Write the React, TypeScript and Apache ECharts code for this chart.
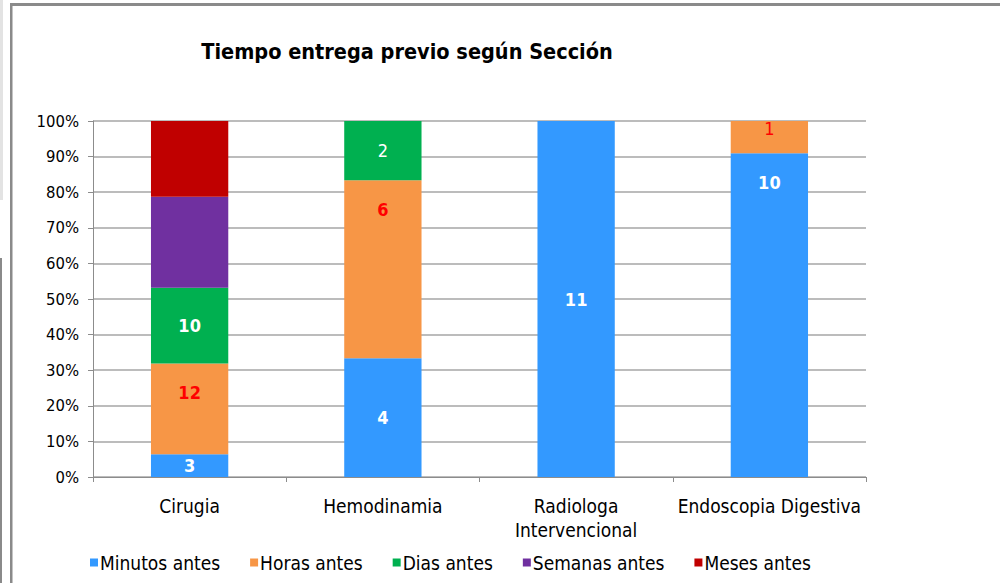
import React, { useEffect, useRef } from "react";
import * as echarts from "echarts";

const categories = ["Cirugia", "Hemodinamia", "Radiologa\nIntervencional", "Endoscopia Digestiva"];
const seriesNames = ["Minutos antes", "Horas antes", "Dias antes", "Semanas antes", "Meses antes"];
const minutos = [3, 4, 11, 10];
const horas = [12, 6, 0, 1];
const dias = [10, 2, 0, 0];
const semanas = [12, 0, 0, 0];
const meses = [10, 0, 0, 0];
const yTicks = [0, 10, 20, 30, 40, 50, 60, 70, 80, 90, 100];

const colors = ["#3399FF", "#F79646", "#00B050", "#7030A0", "#C00000"];
const FONT = "'DejaVu Sans Condensed', 'Liberation Sans Narrow', sans-serif";

export default function App() {
  const ref = useRef<HTMLDivElement>(null);
  useEffect(() => {
    document.body.style.margin = "0";
    const chart = echarts.init(ref.current!, undefined, { renderer: "svg" });
    const all = [minutos, horas, dias, semanas, meses];
    const totals = categories.map((_, i) => all.reduce((s, a) => s + a[i], 0));
    const labelStyles = [
      { color: "#ffffff", weight: ["bold", "bold", "bold", "bold"], dy: [0, 0, 0, -133], show: true },
      { color: "#FF0000", weight: ["bold", "bold", "bold", "normal"], dy: [-16, -60, 0, -9], show: true },
      { color: "#ffffff", weight: ["bold", "normal", "bold", "bold"], dy: [0, 0, 0, 0], show: true },
      { color: "#ffffff", weight: ["bold", "bold", "bold", "bold"], dy: [0, 0, 0, 0], show: false },
      { color: "#ffffff", weight: ["bold", "bold", "bold", "bold"], dy: [0, 0, 0, 0], show: false },
    ];
    const series = all.map((vals, si) => ({
      name: seriesNames[si],
      type: "bar",
      stack: "total",
      barWidth: "40%",
      itemStyle: { color: colors[si] },
      data: vals.map((v, ci) => ({
        value: v === 0 ? null : (v / totals[ci]) * 100,
        label: {
          show: labelStyles[si].show && v !== 0,
          position: "inside",
          formatter: String(v),
          color: labelStyles[si].color,
          fontWeight: labelStyles[si].weight[ci],
          fontSize: 18,
          fontFamily: FONT,
          offset: [0, labelStyles[si].dy[ci]],
        },
      })),
    }));
    chart.setOption({
      animation: false,
      backgroundColor: "#ffffff",
      title: {
        text: "Tiempo entrega previo según Sección",
        left: 402,
        textAlign: "center",
        top: 35,
        textStyle: { fontFamily: FONT, fontWeight: "bold", fontSize: 21.5, color: "#000" },
      },
      grid: { left: 93, right: 134, top: 121, bottom: 106, containLabel: false },
      legend: {
        data: seriesNames,
        left: 85,
        top: 548,
        icon: "rect",
        itemWidth: 8,
        itemHeight: 8,
        itemGap: 30,
        textStyle: { fontFamily: FONT, fontSize: 19, color: "#000", padding: [0, 0, 0, -3] },
      },
      xAxis: {
        type: "category",
        data: categories,
        axisLine: { lineStyle: { color: "#8c8c8c", width: 1 } },
        axisTick: { show: true, length: 5, lineStyle: { color: "#8c8c8c" } },
        axisLabel: { fontFamily: FONT, fontSize: 19, color: "#000", margin: 17, lineHeight: 24, interval: 0 },
      },
      yAxis: {
        type: "value",
        min: 0,
        max: 100,
        interval: 10,
        axisLine: { show: true, lineStyle: { color: "#8c8c8c" } },
        axisTick: { show: true, length: 5, lineStyle: { color: "#8c8c8c" } },
        splitLine: { lineStyle: { color: "#a6a6a6", width: 1.5 } },
        axisLabel: {
          fontFamily: FONT,
          fontSize: 16.5,
          color: "#000",
          margin: 14,
          formatter: (v: number) => (yTicks.includes(v) ? v + "%" : ""),
        },
      },
      graphic: [
        { type: "rect", shape: { x: 0, y: 0, width: 3, height: 200 }, style: { fill: "#e3e3e3" } },
        { type: "rect", shape: { x: 0, y: 258, width: 2, height: 325 }, style: { fill: "#8a8a8a" } },
        { type: "rect", shape: { x: 10, y: 3, width: 990, height: 3 }, style: { fill: "#8a8a8a" } },
        { type: "rect", shape: { x: 10, y: 3, width: 2.5, height: 580 }, style: { fill: "#8a8a8a" } },
      ],
      series,
    });
    return () => chart.dispose();
  }, []);
  return <div ref={ref} style={{ position: "absolute", left: 0, top: 0, width: 1000, height: 583 }} />;
}
